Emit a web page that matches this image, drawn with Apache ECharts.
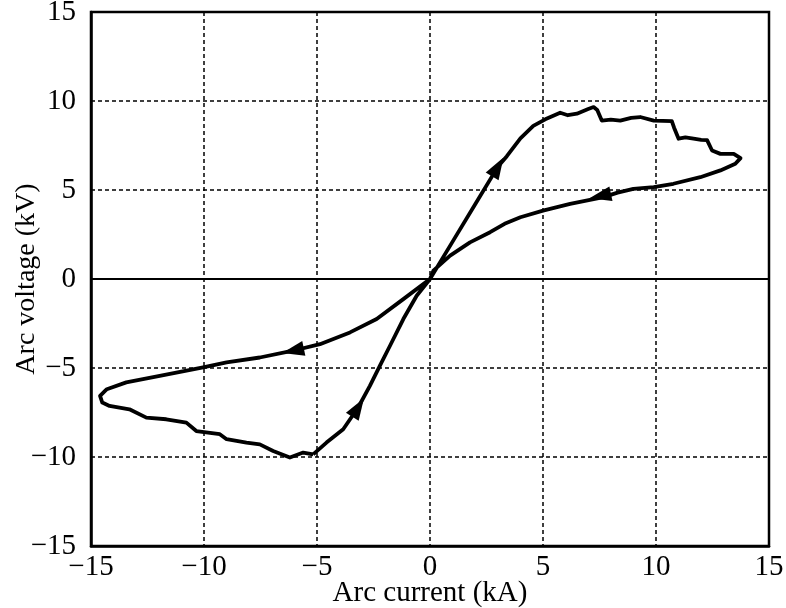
<!DOCTYPE html>
<html>
<head>
<meta charset="utf-8">
<script src="https://cdn.jsdelivr.net/npm/echarts@6/dist/echarts.min.js"></script>
<style>html,body{margin:0;padding:0;background:#fff}#c{width:786px;height:608px}</style>
</head>
<body>
<div id="c"></div>
<script>
// Arc current (kA) along the hysteresis loop
var currentKA = [
  -5.17,-4.58,-3.84,-3.18,-2.66,-2.22,-1.77,-1.18,-0.59,0,
  1.0,2.0,3.0,3.4,4.0,4.57,5.1,5.76,6.1,6.5,7.0,7.24,7.4,7.6,8.0,8.42,8.9,9.3,9.9,10.7,10.8,11.0,11.3,11.66,12.0,12.26,12.48,12.85,13.44,13.74,13.51,
  12.85,11.96,10.77,9.9,9.0,8.3,7.68,6.2,5.0,4.0,3.3,2.66,1.77,0.89,0.15,0,
  -1.18,-2.36,-3.54,-4.87,-6.06,-7.53,-9.0,-10.04,-11.96,-13.44,-14.3,-14.6,-14.5,-14.18,-13.3,-12.55,-11.67,-10.78,-10.34,-9.3,-9.0,-8.12,-7.53,-6.94,-6.2,-5.61,-5.17
];
// Arc voltage (kV)
var voltageKV = [
  -9.85,-9.19,-8.44,-7.22,-6.0,-4.88,-3.75,-2.25,-0.94,0,
  2.1,4.2,6.3,6.9,7.9,8.6,8.97,9.34,9.2,9.29,9.55,9.66,9.5,8.9,8.95,8.9,9.05,9.1,8.9,8.87,8.5,7.88,7.95,7.88,7.82,7.8,7.22,7.03,7.03,6.79,6.47,
  6.1,5.72,5.35,5.16,5.06,4.85,4.6,4.22,3.84,3.47,3.1,2.63,2.06,1.31,0.47,0,
  -1.13,-2.25,-3.0,-3.66,-4.03,-4.41,-4.69,-4.97,-5.44,-5.81,-6.19,-6.57,-6.94,-7.13,-7.32,-7.79,-7.88,-8.07,-8.54,-8.72,-9.0,-9.19,-9.29,-9.66,-10.03,-9.75,-9.85
];
// Direction arrows
var arrowX = [3.0, 7.53, -6.06, -3.18];
var arrowY = [6.3, 4.66, -4.03, -7.22];
var arrowAngle = [-31, 102, 102, -32];

var xTicks = [-15,-10,-5,0,5,10,15];
var yTicks = [-15,-10,-5,0,5,10,15];

var loop = currentKA.map(function(x,i){return [x, voltageKV[i]];});
var arrows = arrowX.map(function(x,i){return {value:[x, arrowY[i]], symbolRotate: arrowAngle[i]};});

var font = 'Liberation Serif';
function fmt(v){return v<0?'\u2212'+Math.abs(v):String(v);}
var chart = echarts.init(document.getElementById('c'), null, {renderer:'canvas'});
chart.setOption({
  animation:false,
  backgroundColor:'#fff',
  grid:{left:91,right:17,top:12,bottom:62,containLabel:false,outerBoundsMode:'none',
        show:true,borderColor:'#000',borderWidth:2.5,backgroundColor:'transparent'},
  xAxis:{
    type:'value',min:-15,max:15,interval:5,
    name:'Arc current (kA)',nameLocation:'middle',nameGap:33,nameMoveOverlap:false,
    nameTextStyle:{fontFamily:font,fontSize:29,color:'#000'},
    axisLine:{show:true,onZero:false,lineStyle:{color:'#000',width:2.5}},
    axisTick:{show:false},
    axisLabel:{fontFamily:font,fontSize:29,color:'#000',margin:7,formatter:fmt},
    splitLine:{show:true,lineStyle:{color:'#000',width:1.5,type:[4,3]}}
  },
  yAxis:{
    type:'value',min:-15,max:15,interval:5,
    name:'Arc voltage (kV)',nameLocation:'middle',nameGap:50,nameMoveOverlap:false,
    nameTextStyle:{fontFamily:font,fontSize:28,color:'#000'},
    axisLine:{show:true,onZero:false,lineStyle:{color:'#000',width:2.5}},
    axisTick:{show:false},
    axisLabel:{fontFamily:font,fontSize:29,color:'#000',margin:15,formatter:fmt},
    splitLine:{show:true,lineStyle:{color:'#000',width:1.5,type:[4,3]}}
  },
  series:[
    {type:'line',data:loop,showSymbol:false,smooth:false,
     lineStyle:{color:'#000',width:3.8,join:'round'},
     markLine:{silent:true,symbol:'none',label:{show:false},
       lineStyle:{color:'#000',width:2,type:'solid'},data:[{yAxis:0}]}},
    {type:'scatter',data:arrows,symbol:'triangle',symbolSize:[15,22],
     itemStyle:{color:'#000',opacity:1},z:5}
  ]
});
</script>
</body>
</html>
